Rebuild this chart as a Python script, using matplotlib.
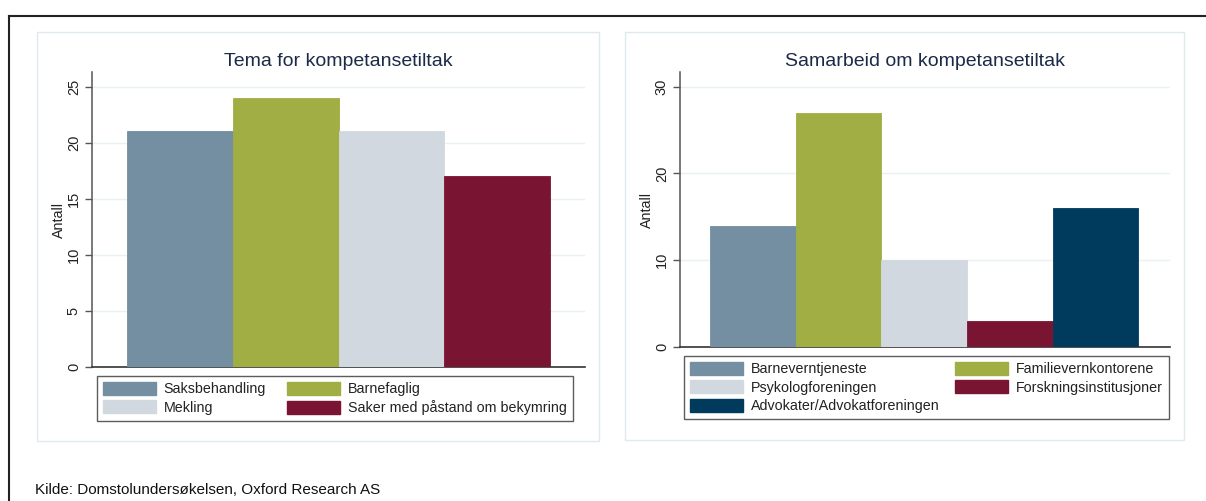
import matplotlib.pyplot as plt
from matplotlib.patches import Rectangle, Patch
from matplotlib.lines import Line2D

plt.rcParams['font.family'] = ['Liberation Sans', 'DejaVu Sans']

# Data
tema_labels = ["Saksbehandling", "Barnefaglig", "Mekling", "Saker med påstand om bekymring"]
tema_values = [21, 24, 21, 17]

samarbeid_labels = ["Barneverntjeneste", "Familievernkontorene", "Psykologforeningen",
                    "Forskningsinstitusjoner", "Advokater/Advokatforeningen"]
samarbeid_values = [14, 27, 10, 3, 16]

colors = ["#738fa1", "#a0ae43", "#d1d8df", "#7a1433", "#003b5e"]

W, H = 1206, 501


def fx(px):
    return px / W


def fy(py):
    return 1 - py / H


def draw_panel(ax, values, labels, title, ylim, yticks, xmarg, legend_box, colspace):
    n = len(values)
    for i, v in enumerate(values):
        ax.bar(i, v, width=1.0, color=colors[i], edgecolor=colors[i], linewidth=0.6, zorder=3)
    ax.set_xlim(-0.5 - xmarg[0], n - 0.5 + xmarg[1])
    ax.set_ylim(*ylim)
    ax.set_yticks(yticks)
    ax.set_xticks([])
    ax.grid(axis='y', color='#e9f1f2', linewidth=1.0, zorder=0)
    for s in ['top', 'right']:
        ax.spines[s].set_visible(False)
    ax.spines['left'].set_color('#555555')
    ax.spines['left'].set_linewidth(1.1)
    ax.spines['bottom'].set_color('#333333')
    ax.spines['bottom'].set_linewidth(1.2)
    ax.tick_params(axis='y', labelrotation=90, length=5, width=1, color='#555555',
                   labelsize=10.5, pad=3, labelcolor='#222222')
    for t in ax.get_yticklabels():
        t.set_va('center')
    ax.set_ylabel("Antall", fontsize=10.3, color='#222222', labelpad=0.5)
    ax.set_title(title, fontsize=14, color='#1c2a48', pad=4)

    # legend is filled row by row (two columns), matplotlib fills by column
    order = list(range(0, n, 2)) + list(range(1, n, 2))
    handles = [Patch(facecolor=colors[i], edgecolor=colors[i]) for i in order]
    names = [labels[i] for i in order]
    leg = ax.legend(handles, names, ncol=2, loc='upper left',
                    bbox_to_anchor=legend_box, bbox_transform=fig.transFigure,
                    fontsize=10.3, frameon=True, fancybox=False, edgecolor='#333333',
                    handlelength=3.7, handleheight=1.0, handletextpad=0.55,
                    columnspacing=colspace, labelspacing=0.3, borderpad=0.4,
                    borderaxespad=0)
    leg.get_frame().set_linewidth(1.0)
    for t in leg.get_texts():
        t.set_color('#222222')


fig = plt.figure(figsize=(W / 100, H / 100), dpi=100)

# outer frame of the figure block
fig.add_artist(Line2D([fx(9), fx(1206)], [fy(16), fy(16)], color='#222222', lw=1.5))
fig.add_artist(Line2D([fx(9), fx(9)], [fy(16), fy(501)], color='#222222', lw=1.5))

# light panel borders
fig.add_artist(Rectangle((fx(37), fy(441)), fx(599) - fx(37), fy(32) - fy(441),
                         fill=False, edgecolor='#dfeaee', lw=1.0))
fig.add_artist(Rectangle((fx(625), fy(440)), fx(1184) - fx(625), fy(32) - fy(440),
                         fill=False, edgecolor='#dfeaee', lw=1.0))

ax1 = fig.add_axes([fx(92), fy(367), fx(585) - fx(92), fy(72) - fy(367)])
ax2 = fig.add_axes([fx(680), fy(347), fx(1170) - fx(680), fy(72) - fy(347)])

draw_panel(ax1, tema_values, tema_labels, "Tema for kompetansetiltak",
           (0, 26.3), [0, 5, 10, 15, 20, 25], (0.33, 0.33),
           (fx(97), fy(376)), 1.5)
draw_panel(ax2, samarbeid_values, samarbeid_labels, "Samarbeid om kompetansetiltak",
           (0, 31.7), [0, 10, 20, 30], (0.35, 0.37),
           (fx(684), fy(356)), 1.1)

fig.text(fx(35), fy(490), "Kilde: Domstolundersøkelsen, Oxford Research AS",
         fontsize=11, color='#111111', va='center', ha='left')

fig.savefig("out.png", dpi=100)
